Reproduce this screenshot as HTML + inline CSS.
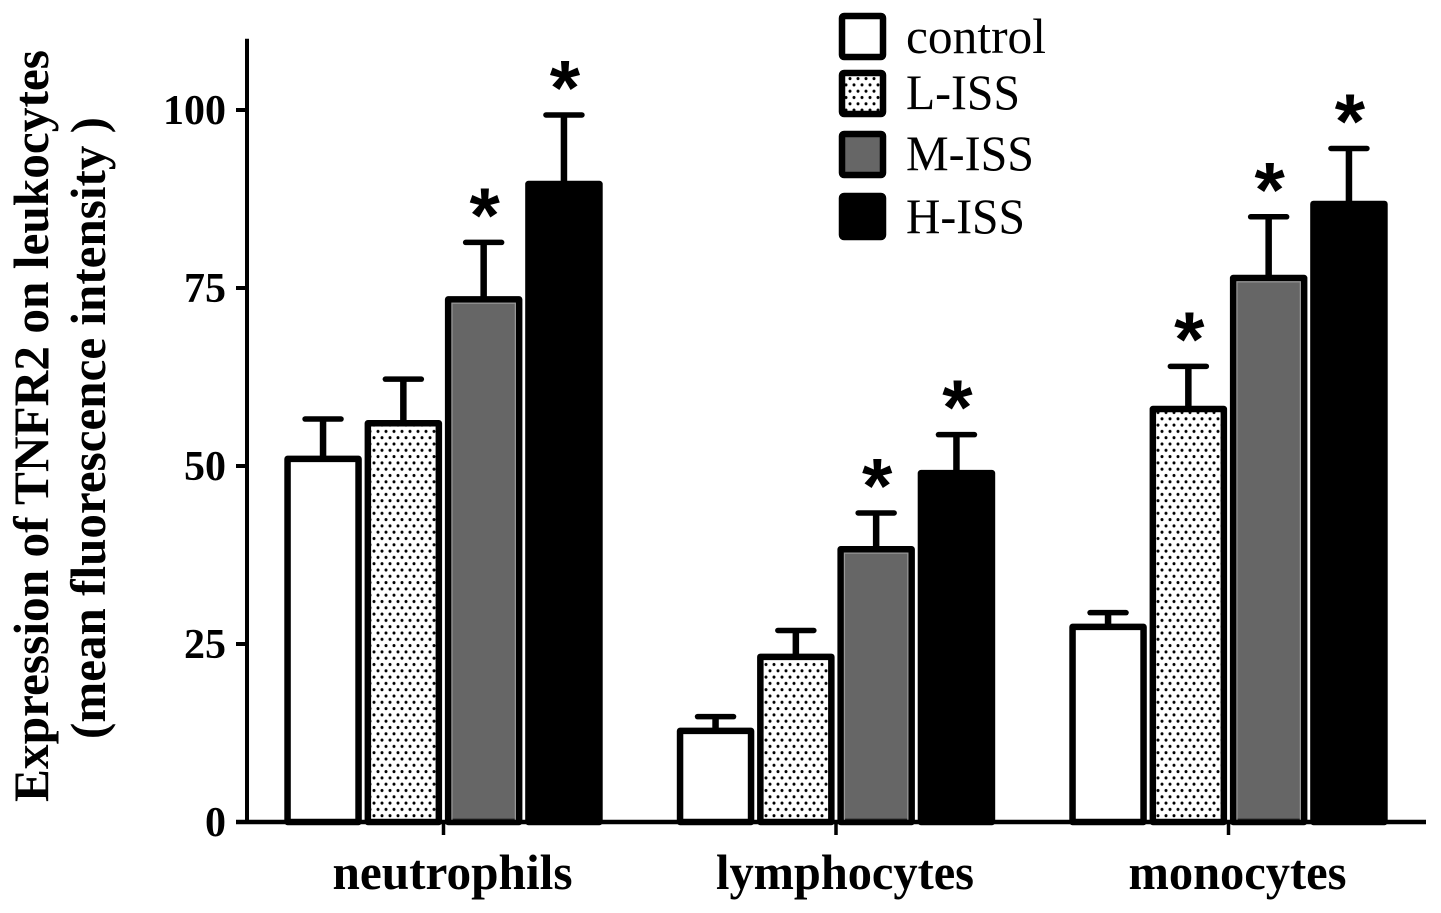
<!DOCTYPE html>
<html>
<head>
<meta charset="utf-8">
<title>TNFR2 expression on leukocytes</title>
<style>
html,body{margin:0;padding:0;background:#fff;}
svg{display:block;}
text{font-family:"Liberation Serif",serif;fill:#000;}
</style>
</head>
<body>
<svg id="chart" width="1441" height="913" viewBox="0 0 1441 913" xmlns="http://www.w3.org/2000/svg">
<defs>
<pattern id="dots" patternUnits="userSpaceOnUse" width="8" height="12.6">
<rect width="8" height="12.6" fill="#fff"/>
<circle cx="2" cy="3" r="1.5" fill="#000"/>
<circle cx="6" cy="9.3" r="1.5" fill="#000"/>
</pattern>
</defs>
<g id="marks"></g>
<g id="axes"></g>
<text transform="translate(48,426) rotate(-90)" text-anchor="middle" font-size="50" font-weight="bold" textLength="752" lengthAdjust="spacingAndGlyphs">Expression of TNFR2 on leukocytes</text>
<text transform="translate(105,428) rotate(-90)" text-anchor="middle" font-size="50" font-weight="bold" textLength="622" lengthAdjust="spacingAndGlyphs">(mean fluorescence intensity )</text>
<g id="legend"></g>
</svg>
<script>
const categories = ['neutrophils', 'lymphocytes', 'monocytes'];
const seriesNames = ['control', 'L-ISS', 'M-ISS', 'H-ISS'];
const controlValues = [51.0, 12.8, 27.4];
const lissValues = [56.0, 23.2, 58.0];
const missValues = [73.4, 38.3, 76.4];
const hissValues = [89.6, 49.0, 86.8];
const controlErrors = [56.6, 14.8, 29.4];
const lissErrors = [62.2, 26.9, 64.0];
const missErrors = [81.4, 43.4, 85.0];
const hissErrors = [99.3, 54.4, 94.6];
const controlStars = [false, false, false];
const lissStars = [false, false, true];
const missStars = [true, true, true];
const hissStars = [true, true, true];
const yTicks = [0, 25, 50, 75, 100];
const yMax = 110;

const values = [controlValues, lissValues, missValues, hissValues];
const errors = [controlErrors, lissErrors, missErrors, hissErrors];
const stars = [controlStars, lissStars, missStars, hissStars];
const fills = ['#fff', 'url(#dots)', '#666', '#000'];

const NS = 'http://www.w3.org/2000/svg';
const Y0 = 822, PX_PER_UNIT = 7.12, AXIS_X = 247;
const GROUP_X0 = 443.5, GROUP_STEP = 392.5, BAR_STEP = 80.3, BAR_W = 71, STROKE = 6.5;

function yScale(v) { return Y0 - v * PX_PER_UNIT; }
function xScale(g, s) { return GROUP_X0 + g * GROUP_STEP + (s - 1.5) * BAR_STEP; }
function make(parent, tag, attrs, text) {
  const el = document.createElementNS(NS, tag);
  for (const k in attrs) el.setAttribute(k, attrs[k]);
  if (text !== undefined) el.textContent = text;
  parent.appendChild(el);
  return el;
}

const marks = document.getElementById('marks');
const axes = document.getElementById('axes');
const legend = document.getElementById('legend');
const categoryLabelWidths = [240, 258, 218];

categories.forEach((cat, g) => {
  seriesNames.forEach((name, s) => {
    const cx = xScale(g, s);
    const top = yScale(values[s][g]);
    const errTop = yScale(errors[s][g]);

    const stem = make(marks, 'line', {x1: cx, x2: cx, y1: top, y2: errTop, stroke: '#000', 'stroke-width': 6.5});
    
    

    const cap = make(marks, 'line', {x1: cx - 18, x2: cx + 18, y1: errTop, y2: errTop, stroke: '#000', 'stroke-width': 5.5, 'stroke-linecap': 'round'});
    
    

    const bar = make(marks, 'rect', {x: cx - BAR_W / 2, y: top, width: BAR_W, height: Y0 - top, fill: fills[s], stroke: '#000', 'stroke-width': STROKE, 'stroke-linejoin': 'round'});
    
    

    if (s === 2) {
      const inner = make(marks, 'rect', {x: cx - BAR_W / 2 + 3.8, y: top + 3.8, width: BAR_W - 7.6, height: Y0 - top - 5.5, fill: 'none', stroke: '#999', 'stroke-width': 1.2});
      
      
    }

    if (stars[s][g]) {
      const star = make(marks, 'text', {x: cx + 1, y: errTop - 0.5, 'text-anchor': 'middle', 'font-size': 78, 'font-weight': 'bold'}, '*');
      star.style.fontFamily = '"Liberation Sans",sans-serif';
      
      
    }
  });

  const cx = GROUP_X0 + g * GROUP_STEP;
  const tick = make(axes, 'line', {x1: cx, x2: cx, y1: Y0, y2: 835, stroke: '#000', 'stroke-width': 3.5});
  
  

  const label = make(axes, 'text', {x: cx + 9, y: 889, 'text-anchor': 'middle', 'font-size': 50, 'font-weight': 'bold', textLength: categoryLabelWidths[g], lengthAdjust: 'spacingAndGlyphs'}, cat);
  
  
});

const yAxisLine = make(axes, 'line', {x1: AXIS_X, x2: AXIS_X, y1: yScale(yMax), y2: Y0 + 2, stroke: '#000', 'stroke-width': 4});



const xAxisLine = make(axes, 'line', {x1: 236, x2: 1426, y1: Y0, y2: Y0, stroke: '#000', 'stroke-width': 4.5});



yTicks.forEach(t => {
  const y = yScale(t);
  const tick = make(axes, 'line', {x1: 236, x2: AXIS_X, y1: y, y2: y, stroke: '#000', 'stroke-width': 4});
  
  

  const label = make(axes, 'text', {x: 226, y: y + 14, 'text-anchor': 'end', 'font-size': 42, 'font-weight': 'bold'}, String(t));
  
  
});

const legendSwatchY = [16, 73, 134, 196];
const legendTextY = [53, 109, 170, 233];
const legendTextW = [140, 114, 128, 119];
seriesNames.forEach((name, s) => {
  const sw = make(legend, 'rect', {x: 842, y: legendSwatchY[s], width: 41, height: 41, rx: 2, fill: fills[s], stroke: '#000', 'stroke-width': 6.5, 'stroke-linejoin': 'round'});
  
  

  const label = make(legend, 'text', {x: 906, y: legendTextY[s], 'font-size': 50, textLength: legendTextW[s], lengthAdjust: 'spacingAndGlyphs'}, name);
  
  
});
</script>
</body>
</html>
